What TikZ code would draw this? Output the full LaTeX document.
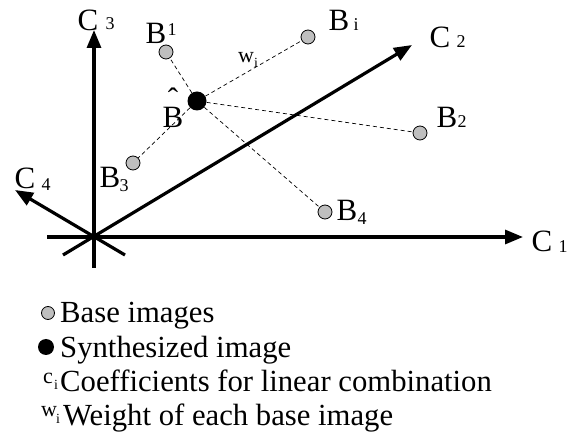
\documentclass[tikz,border=0pt]{standalone}
\usepackage{fontspec}
\setmainfont{Liberation Serif}
\usetikzlibrary{arrows.meta}
\begin{document}
\begin{tikzpicture}[x=1pt,y=-1pt,
  axis/.style={line width=3.2pt, -{Triangle[length=18pt,width=14pt]}},
  base/.style={circle, draw=black, line width=0.8pt, fill=black!25, minimum size=14pt, inner sep=0pt},
  synth/.style={circle, fill=black, minimum size=19pt, inner sep=0pt},
  wline/.style={dash pattern=on 4pt off 3pt, line width=0.7pt},
  lbl/.style={font=\fontsize{31}{31}\selectfont, inner sep=0pt},
  sub/.style={font=\fontsize{18}{18}\selectfont, inner sep=0pt},
  tiny/.style={font=\fontsize{14}{14}\selectfont, inner sep=0pt},
  leg/.style={font=\fontsize{30.7}{30.7}\selectfont, inner sep=0pt, anchor=base west},
  legsym/.style={font=\fontsize{22}{22}\selectfont, inner sep=0pt},
]
\useasboundingbox (0,0) rectangle (586,443);
% axes
\coordinate (O) at (94,237);
\coordinate (c1s) at (47,237); \coordinate (c1e) at (523,237);
\coordinate (c3s) at (94,268); \coordinate (c3e) at (94,30);
\coordinate (c2s) at (63,255); \coordinate (c2e) at (412,45);
\coordinate (c4s) at (125,255); \coordinate (c4e) at (15,190);
\draw[axis] (c1s) -- (c1e);
\draw[axis] (c3s) -- (c3e);
\draw[axis] (c2s) -- (c2e);
\draw[axis] (c4s) -- (c4e);
% points
\node[base] (b1) at (166,52) {};
\node[base] (bi) at (308,37) {};
\node[base] (b2) at (420,133) {};
\node[base] (b4) at (325,212) {};
\node[base] (b3) at (133,163) {};
\node[synth] (bh) at (197,101) {};
\foreach \t in {b1,bi,b2,b4,b3} \draw[wline] (bh) -- (\t);
% labels
\node[lbl] (lc3) at (88,20) {C};   \node[sub] (lc3s) at (110,24) {3};
\node[lbl] (lb1) at (156,33) {B};  \node[sub] (lb1s) at (172,30) {1};
\node[legsym] (lw) at (246,58) {w}; \node[tiny] (lws) at (256,63) {i};
\node[lbl, align=center, anchor=south] (lbh) at (173,127.5) {ˆ\\[-13pt]B};
\node[lbl] (lb3) at (110,177) {B};  \node[sub] (lb3s) at (124,186) {3};
\node[lbl] (lc4) at (25,178) {C};   \node[sub] (lc4s) at (46,185) {4};
\node[lbl] (lbi) at (339,20) {B};  \node[sub] (lbis) at (356,25) {i};
\node[lbl] (lc2) at (440,37) {C};   \node[sub] (lc2s) at (461,42) {2};
\node[lbl] (lb2) at (447,117) {B}; \node[sub] (lb2s) at (462,122) {2};
\node[lbl] (lb4) at (347,210) {B}; \node[sub] (lb4s) at (362,219) {4};
\node[lbl] (lc1) at (542,241) {C};  \node[sub] (lc1s) at (563,247) {1};
% legend
\node[base, minimum size=13pt] (g1) at (48,313) {};
\node[leg] (t1) at (60,323) {Base images};
\node[synth, minimum size=16pt] (g2) at (46,347) {};
\node[leg] (t2) at (60,357) {Synthesized image};
\node[legsym] (g3) at (48,378) {c}; \node[tiny] (g3s) at (56,385) {i};
\node[leg] (t3) at (60,391) {Coefficients for linear combination};
\node[legsym] (g4) at (49,412) {w}; \node[tiny] (g4s) at (58,419) {i};
\node[leg] (t4) at (63,425) {Weight of each base image};
\end{tikzpicture}
\end{document}
